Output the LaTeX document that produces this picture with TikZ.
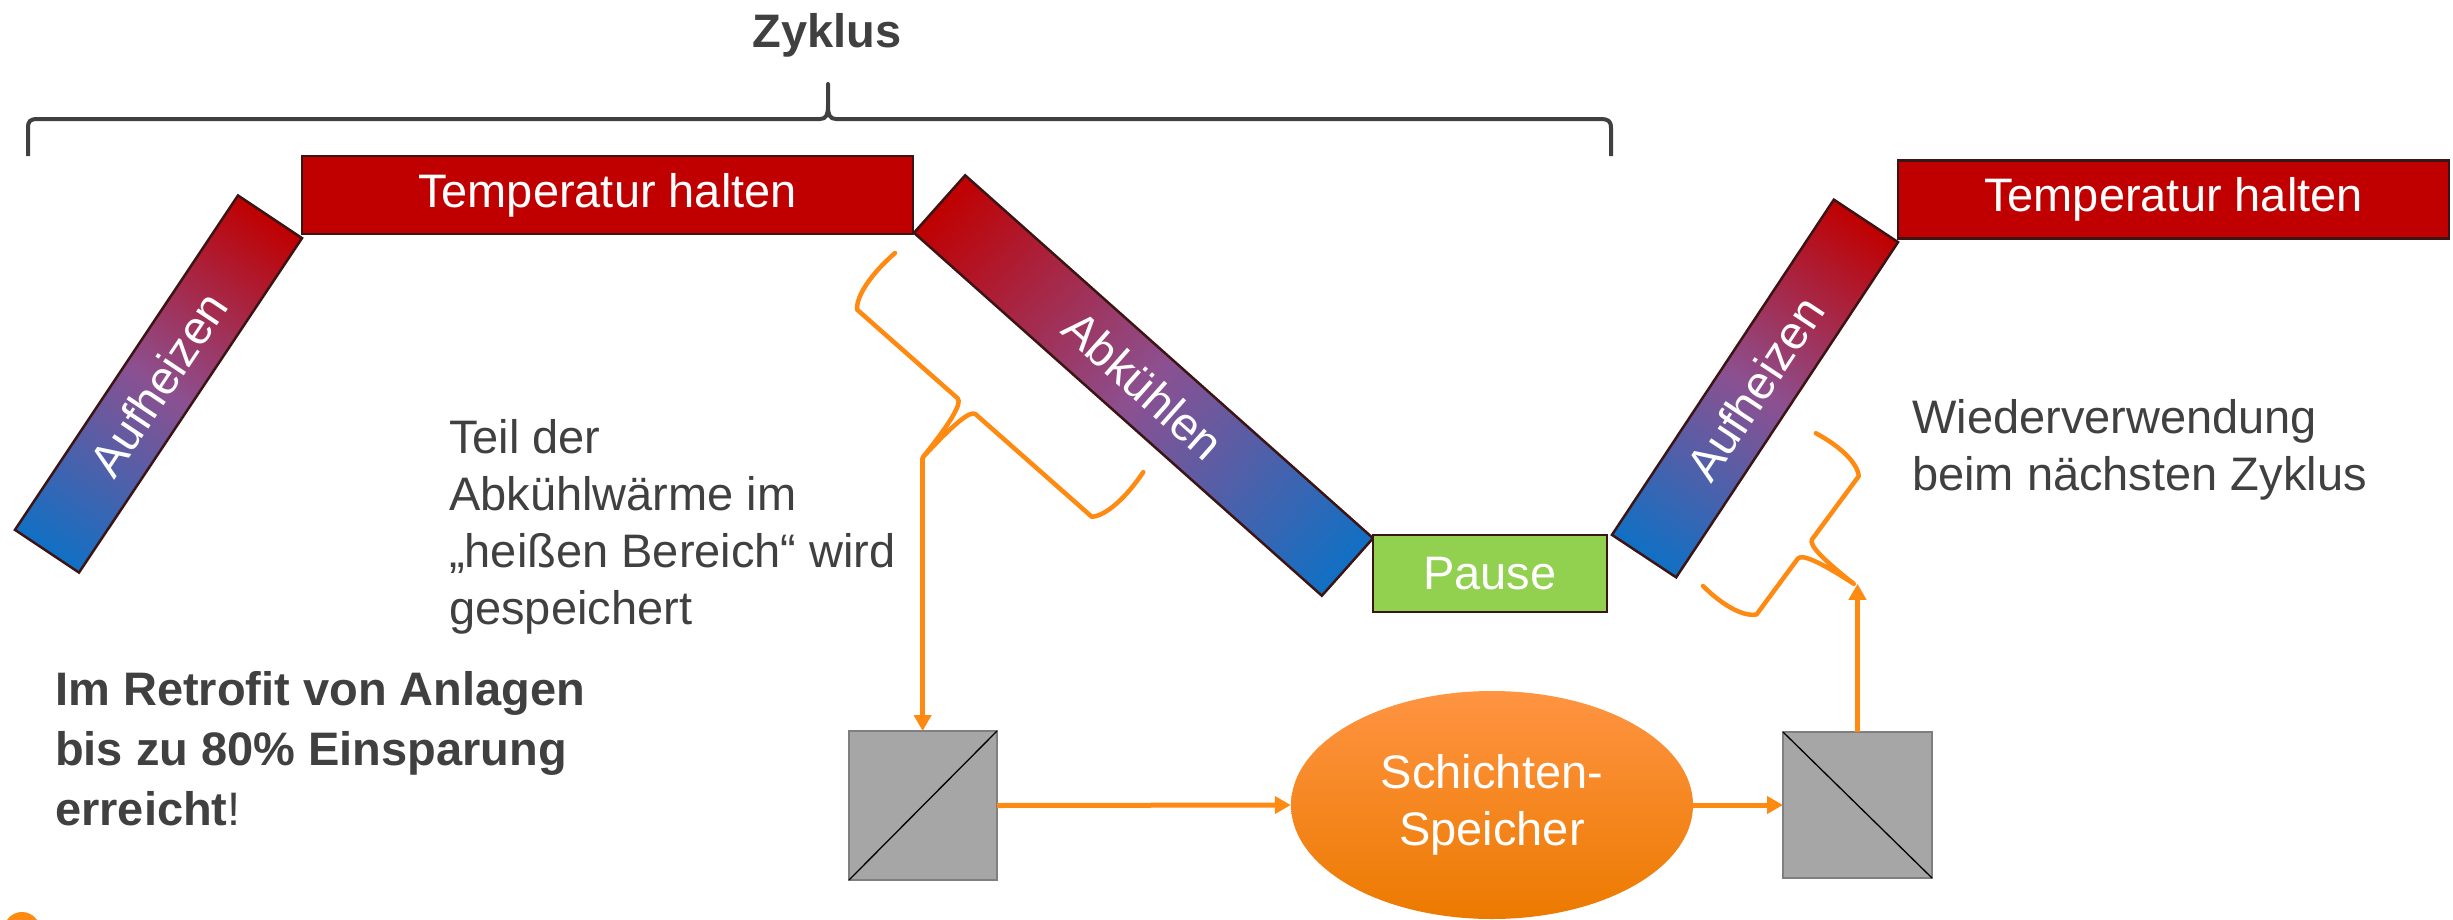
\documentclass[tikz,border=0pt]{standalone}
\usepackage{fontspec}
\setmainfont{Liberation Sans}
\usetikzlibrary{arrows.meta,shapes.geometric}

\definecolor{holdred}{HTML}{C00000}
\definecolor{coolblue}{HTML}{1070C4}
\definecolor{midpurple}{HTML}{8C5090}
\definecolor{pausegreen}{HTML}{92D050}
\definecolor{edgebrown}{HTML}{3C1414}
\definecolor{flow}{HTML}{FF8A12}
\definecolor{txtgray}{HTML}{404040}
\definecolor{hxfill}{HTML}{A6A6A6}
\definecolor{hxedge}{HTML}{7F7F7F}
\definecolor{storetop}{HTML}{FF9442}
\definecolor{storebot}{HTML}{EC7A00}

% gradients for the heating and cooling ramps (cold end left)
\pgfdeclarehorizontalshading{heatramp}{77pt}{color(0pt)=(coolblue);
  color(201pt)=(midpurple); color(402pt)=(holdred)}
\pgfdeclarehorizontalshading{coolramp}{77pt}{color(0pt)=(holdred);
  color(273pt)=(midpurple); color(546pt)=(coolblue)}

% curly brace in a local frame: #1 length, #2 depth of the back,
% #3 position of the tip along the chord, #4 name of the tip coordinate
\newcommand\heatbrace[4]{%
  \draw[flowbrace] (0,0) .. controls (-4,0.45*#2) and (-1,0.85*#2) .. (9,#2)
    -- (#3-13,#2) .. controls (#3-6,#2) and (#3-2,#2+25) .. (#3,2*#2)
    .. controls (#3+1,#2+25) and (#3+4,#2) .. (#3+11,#2)
    -- (#1-9,#2) .. controls (#1+1,0.85*#2) and (#1+4,0.45*#2) .. (#1,0);
  \coordinate (#4) at (#3,2*#2);
}

\tikzset{
  body/.style={font=\fontsize{47}{57}\selectfont},
  phase/.style={body, draw=edgebrown, line width=2.5pt, text=white,
    inner sep=0pt, outer sep=0pt},
  bar/.style={phase, minimum height=77pt},
  ramp/.style={inner sep=0pt, outer sep=0pt},
  hold/.style={phase, fill=holdred, minimum height=78pt},
  pausebox/.style={phase, fill=pausegreen, minimum height=77pt},
  hx/.style={draw=hxedge, fill=hxfill, line width=2.5pt, inner sep=0pt,
    outer sep=0pt},
  store/.style={ellipse, body, top color=storetop, bottom color=storebot,
    text=white, align=center, inner sep=0pt, minimum width=402pt,
    minimum height=228pt},
  note/.style={body, text=txtgray, align=left, anchor=base west, inner sep=0pt},
  flowbrace/.style={draw=flow, line width=4.5pt, line cap=round, line join=round},
  flowarrow/.style={draw=flow, line width=5pt,
    -{Triangle[width=17pt,length=16pt]}},
}

\begin{document}
\begin{tikzpicture}[x=1pt, y=-1pt]
\useasboundingbox (0,0) rectangle (2453,919);
\fill[white] (0,0) rectangle (2453,919);

% cycle brace
\draw[txtgray, line width=4pt, line join=round]
  (28,156) -- (28,128) .. controls (28,121) and (30,119) .. (38,119)
  -- (820,119) .. controls (826,119) and (828,115) .. (828,106) -- (828,84)
  -- (828,106) .. controls (828,115) and (830,119) .. (836,119)
  -- (1601,119) .. controls (1608,119) and (1611,121) .. (1611,128)
  -- (1611,156);
\node[font=\bfseries\fontsize{47}{57}\selectfont, text=txtgray, anchor=base,
  inner sep=0pt] (cycle) at (827,47) {Zyklus};

% process phases
\node[hold, minimum width=611pt] (hold1) at (607.5,195) {Temperatur halten};
\node[ramp, rotate=56.3] (heat1 fill) at (158.5,384) {\pgfuseshading{heatramp}};
\node[bar, rotate=56.3, minimum width=402pt] (heat1) at (158.5,384) {Aufheizen};
\node[ramp, rotate=-41.66] (cool fill) at (1143.5,385.5) {\pgfuseshading{coolramp}};
\node[bar, rotate=-41.66, minimum width=546pt] (cool) at (1143.5,385.5) {Abkühlen};
\node[pausebox, minimum width=234pt] (pause) at (1490,573.5) {Pause};
\node[ramp, rotate=56.5] (heat2 fill) at (1755,388.5) {\pgfuseshading{heatramp}};
\node[bar, rotate=56.5, minimum width=402pt] (heat2) at (1755,388.5) {Aufheizen};
\node[hold, minimum width=551pt] (hold2) at (2173.5,199.5) {Temperatur halten};

% heat exchangers and storage
\node[hx, minimum width=148pt, minimum height=149pt] (hx1) at (923,805.5) {};
\draw[black, line width=1.3pt] (hx1.south west) -- (hx1.north east);
\node[hx, minimum width=149pt, minimum height=146pt] (hx2) at (1857.5,805) {};
\draw[black, line width=1.3pt] (hx2.north west) -- (hx2.south east);
\node[store] (store) at (1492,805) {Schichten-\\Speicher};

% braces along the cooling and heating phases
\begin{scope}[shift={(895,253)}, x={(0.75pt,-0.662pt)}, y={(-0.662pt,-0.75pt)}]
  \heatbrace{331}{67.5}{156}{tipA}
\end{scope}
\begin{scope}[shift={(1703,586)}, x={(0.594pt,0.804pt)}, y={(0.804pt,-0.594pt)}]
  \heatbrace{190}{60}{91.4}{tipB}
\end{scope}

% heat flow
\draw[flowarrow] (tipA) -- (tipA |- hx1.north);
\draw[flowarrow] (hx1.east) -- (store.west);
\draw[flowarrow] (store.east) -- (hx2.west);
\draw[flowarrow] (hx2.north) -- (hx2.north |- tipB);

% notes (anchored at the baseline of their last line)
\node[note] (store note) at (449,624)
  {Teil der\\Abkühlwärme im\\„heißen Bereich“ wird\\gespeichert};
\node[note] (reuse note) at (1912,490) {Wiederverwendung\\beim nächsten Zyklus};
\node[note, font=\bfseries\fontsize{47}{60}\selectfont] (saving) at (55,825)
  {Im Retrofit von Anlagen\\bis zu 80\% Einsparung\\erreicht\textmd{!}};

% corner mark
\fill[flow] (22,930) circle[radius=18];
\end{tikzpicture}
\end{document}
